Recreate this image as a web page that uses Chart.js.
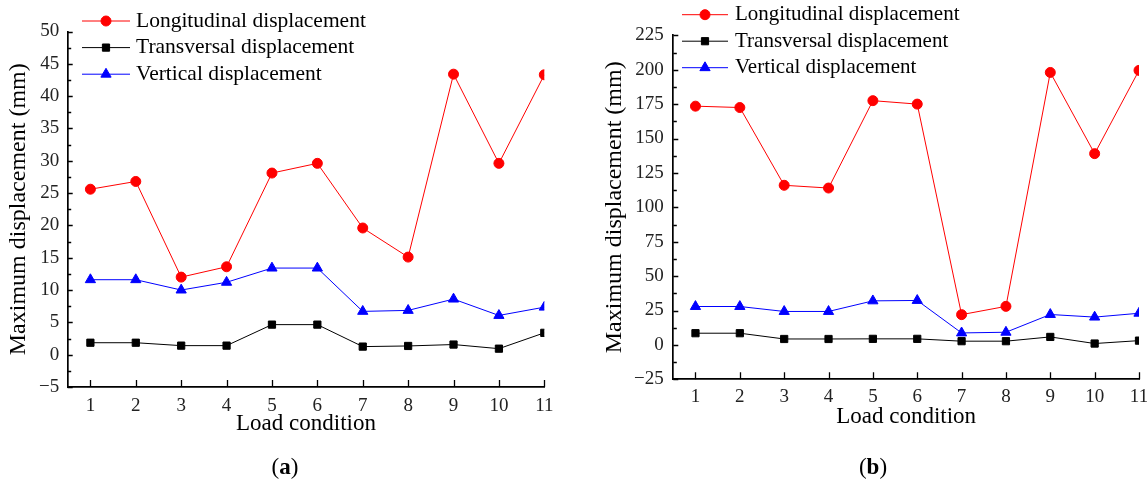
<!DOCTYPE html>
<html><head><meta charset="utf-8">
<script src="https://cdn.jsdelivr.net/npm/chart.js@4.4.1/dist/chart.umd.min.js"></script>
<style>
html,body{margin:0;padding:0;width:1147px;height:483px;overflow:hidden;background:#fff;}
#wa{position:absolute;left:0;top:0;width:575px;height:483px;}
#wb{position:absolute;left:580px;top:0;width:610px;height:483px;}
.cap{position:absolute;top:453px;line-height:27px;font-family:"Liberation Serif",serif;font-size:23px;color:#000;transform:translateX(-50%);white-space:nowrap;}
</style></head>
<body>
<div id="wa"><canvas id="ca" width="575" height="483"></canvas></div>
<div id="wb"><canvas id="cb" width="610" height="483"></canvas></div>
<div class="cap" style="left:285px">(<b>a</b>)</div>
<div class="cap" style="left:873px">(<b>b</b>)</div>
<script>
// ---- data ----
const categories = [1, 2, 3, 4, 5, 6, 7, 8, 9, 10, 11];
const xTickLabels = ['1', '2', '3', '4', '5', '6', '7', '8', '9', '10', '11'];
const seriesNames = ['Longitudinal displacement', 'Transversal displacement', 'Vertical displacement'];

const longA  = [25.6, 26.8, 12.0, 13.6, 28.1, 29.6, 19.6, 15.1, 43.4, 29.6, 43.3];
const transA = [1.85, 1.85, 1.4, 1.4, 4.65, 4.65, 1.25, 1.35, 1.57, 0.93, 3.38];
const vertA  = [11.6, 11.6, 10.0, 11.2, 13.4, 13.4, 6.7, 6.85, 8.6, 6.07, 7.35];

const longB  = [173.5, 172.5, 116, 114, 177.5, 175, 22, 28, 198, 139, 199.5];
const transB = [8.5, 8.5, 4.3, 4.3, 4.4, 4.4, 2.7, 2.7, 5.8, 1.0, 3.1];
const vertB  = [27.9, 27.9, 24.3, 24.3, 32.0, 32.3, 8.7, 9.2, 22.1, 20.2, 23.0];

const yTicksA = [-5, 0, 5, 10, 15, 20, 25, 30, 35, 40, 45, 50];
const yTickLabelsA = ['\u22125', '0', '5', '10', '15', '20', '25', '30', '35', '40', '45', '50'];
const yTicksB = [-25, 0, 25, 50, 75, 100, 125, 150, 175, 200, 225];
const yTickLabelsB = ['\u221225', '0', '25', '50', '75', '100', '125', '150', '175', '200', '225'];

// ---- styles ----
const FONT = '"Liberation Serif", "Times New Roman", serif';
const seriesStyles = [
  {color: '#ff0000', style: 'circle', r: 5},
  {color: '#000000', style: 'rect', r: 5.1},
  {color: '#0000ff', style: 'triangle', r: 5.9}
];

function drawMarker(ctx, style, r, x, y, color) {
  ctx.save();
  ctx.fillStyle = color; ctx.strokeStyle = color; ctx.lineWidth = 1;
  ctx.beginPath();
  if (style === 'circle') {
    ctx.arc(x, y, r, 0, Math.PI * 2);
  } else if (style === 'rect') {
    const s = Math.SQRT1_2 * r;
    ctx.rect(x - s, y - s, 2 * s, 2 * s);
  } else {
    ctx.moveTo(x, y - r);
    ctx.lineTo(x - Math.sin(Math.PI / 3) * r, y + r / 2);
    ctx.lineTo(x + Math.sin(Math.PI / 3) * r, y + r / 2);
    ctx.closePath();
  }
  ctx.fill(); ctx.stroke();
  ctx.restore();
}

const legendPlugin = {
  id: 'serieLegend',
  afterDraw(chart, args, o) {
    const ctx = chart.ctx;
    ctx.save();
    chart.data.datasets.forEach((ds, i) => {
      const y = o.y + i * o.dy;
      ctx.strokeStyle = ds.borderColor; ctx.lineWidth = 1;
      ctx.beginPath(); ctx.moveTo(o.x, y); ctx.lineTo(o.x + o.len, y); ctx.stroke();
      drawMarker(ctx, ds.pointStyle, ds.pointRadius, o.x + o.len / 2, y, ds.borderColor);
      ctx.fillStyle = '#000';
      ctx.font = o.size + 'px ' + FONT;
      ctx.textBaseline = 'middle'; ctx.textAlign = 'left';
      ctx.fillText(ds.label, o.tx, y);
    });
    ctx.restore();
  }
};

const tickPlugin = {
  id: 'innerTicks',
  afterDraw(chart) {
    const {ctx, chartArea: ca, scales: {x, y}} = chart;
    ctx.save();
    ctx.strokeStyle = '#000'; ctx.lineWidth = 1.3;
    ctx.beginPath();
    x.ticks.forEach(t => {
      const px = Math.round(x.getPixelForValue(t.value)) + 0.5;
      ctx.moveTo(px, ca.bottom); ctx.lineTo(px, ca.bottom - 7);
    });
    const vals = y.ticks.map(t => t.value);
    vals.forEach((v, i) => {
      const py = Math.round(y.getPixelForValue(v)) + 0.5;
      ctx.moveTo(ca.left, py); ctx.lineTo(ca.left + 5, py);
      if (i < vals.length - 1) {
        const pm = Math.round(y.getPixelForValue((v + vals[i + 1]) / 2)) + 0.5;
        ctx.moveTo(ca.left, pm); ctx.lineTo(ca.left + 3.5, pm);
      }
    });
    ctx.stroke();
    ctx.restore();
  }
};

function build(id, g, seriesValues, yTicks, yLabels) {
  return new Chart(document.getElementById(id), {
    type: 'line',
    data: {
      datasets: seriesValues.map((vals, k) => ({
        label: seriesNames[k],
        data: categories.map((c, i) => ({x: c, y: vals[i]})),
        borderColor: seriesStyles[k].color,
        backgroundColor: seriesStyles[k].color,
        pointBackgroundColor: seriesStyles[k].color,
        pointBorderColor: seriesStyles[k].color,
        borderWidth: 1,
        pointStyle: seriesStyles[k].style,
        pointRadius: seriesStyles[k].r,
        pointHoverRadius: seriesStyles[k].r,
        pointBorderWidth: 1,
        tension: 0,
        fill: false,
        clip: 0
      }))
    },
    options: {
      responsive: false, animation: false, devicePixelRatio: 1, events: [],
      layout: {autoPadding: false, padding: g.pad},
      plugins: {legend: {display: false}, tooltip: {enabled: false}, serieLegend: g.legend},
      scales: {
        x: {
          type: 'linear', min: 0.5, max: 11,
          afterBuildTicks: sc => { sc.ticks = categories.map(v => ({value: v})); },
          afterFit: sc => { sc.height = g.xH; },
          grid: {display: false, drawTicks: false},
          border: {display: true, color: '#000', width: 1.7},
          ticks: {padding: g.xTickPad, color: '#222', font: {family: FONT, size: 19},
                  maxRotation: 0, autoSkip: false, callback: (v, i) => xTickLabels[i]},
          title: {display: true, text: 'Load condition', color: '#000',
                  font: {family: FONT, size: 23}, padding: {top: 0, bottom: 0}}
        },
        y: {
          type: 'linear', min: yTicks[0], max: yTicks[yTicks.length - 1],
          afterBuildTicks: sc => { sc.ticks = yTicks.map(v => ({value: v})); },
          afterFit: sc => { sc.width = g.yW; },
          grid: {display: false, drawTicks: false},
          border: {display: true, color: '#000', width: 1.7},
          ticks: {padding: g.yTickPad, color: '#222', font: {family: FONT, size: 19},
                  autoSkip: false, callback: (v, i) => yLabels[i]},
          title: {display: true, text: 'Maximum displacement (mm)', color: '#000',
                  font: {family: FONT, size: 24}, padding: {top: g.yTitlePad, bottom: 0}}
        }
      }
    },
    plugins: [legendPlugin, tickPlugin]
  });
}

build('ca', {
  pad: {left: 0, top: 31.5, right: 30.7, bottom: 45.2},
  xH: 50.8, yW: 67.7, xTickPad: 7.6, yTickPad: 8.4, yTitlePad: 4.2,
  legend: {x: 82, y: 21, dy: 26.6, len: 48, tx: 136, size: 21.5}
}, [longA, transA, vertA], yTicksA, yTickLabelsA);

build('cb', {
  pad: {left: 0, top: 35.3, right: 51, bottom: 52.7},
  xH: 51, yW: 93.3, xTickPad: 6.8, yTickPad: 9.5, yTitlePad: 20.6,
  legend: {x: 102, y: 14.7, dy: 26.5, len: 46, tx: 155, size: 21}
}, [longB, transB, vertB], yTicksB, yTickLabelsB);
</script>
</body></html>
